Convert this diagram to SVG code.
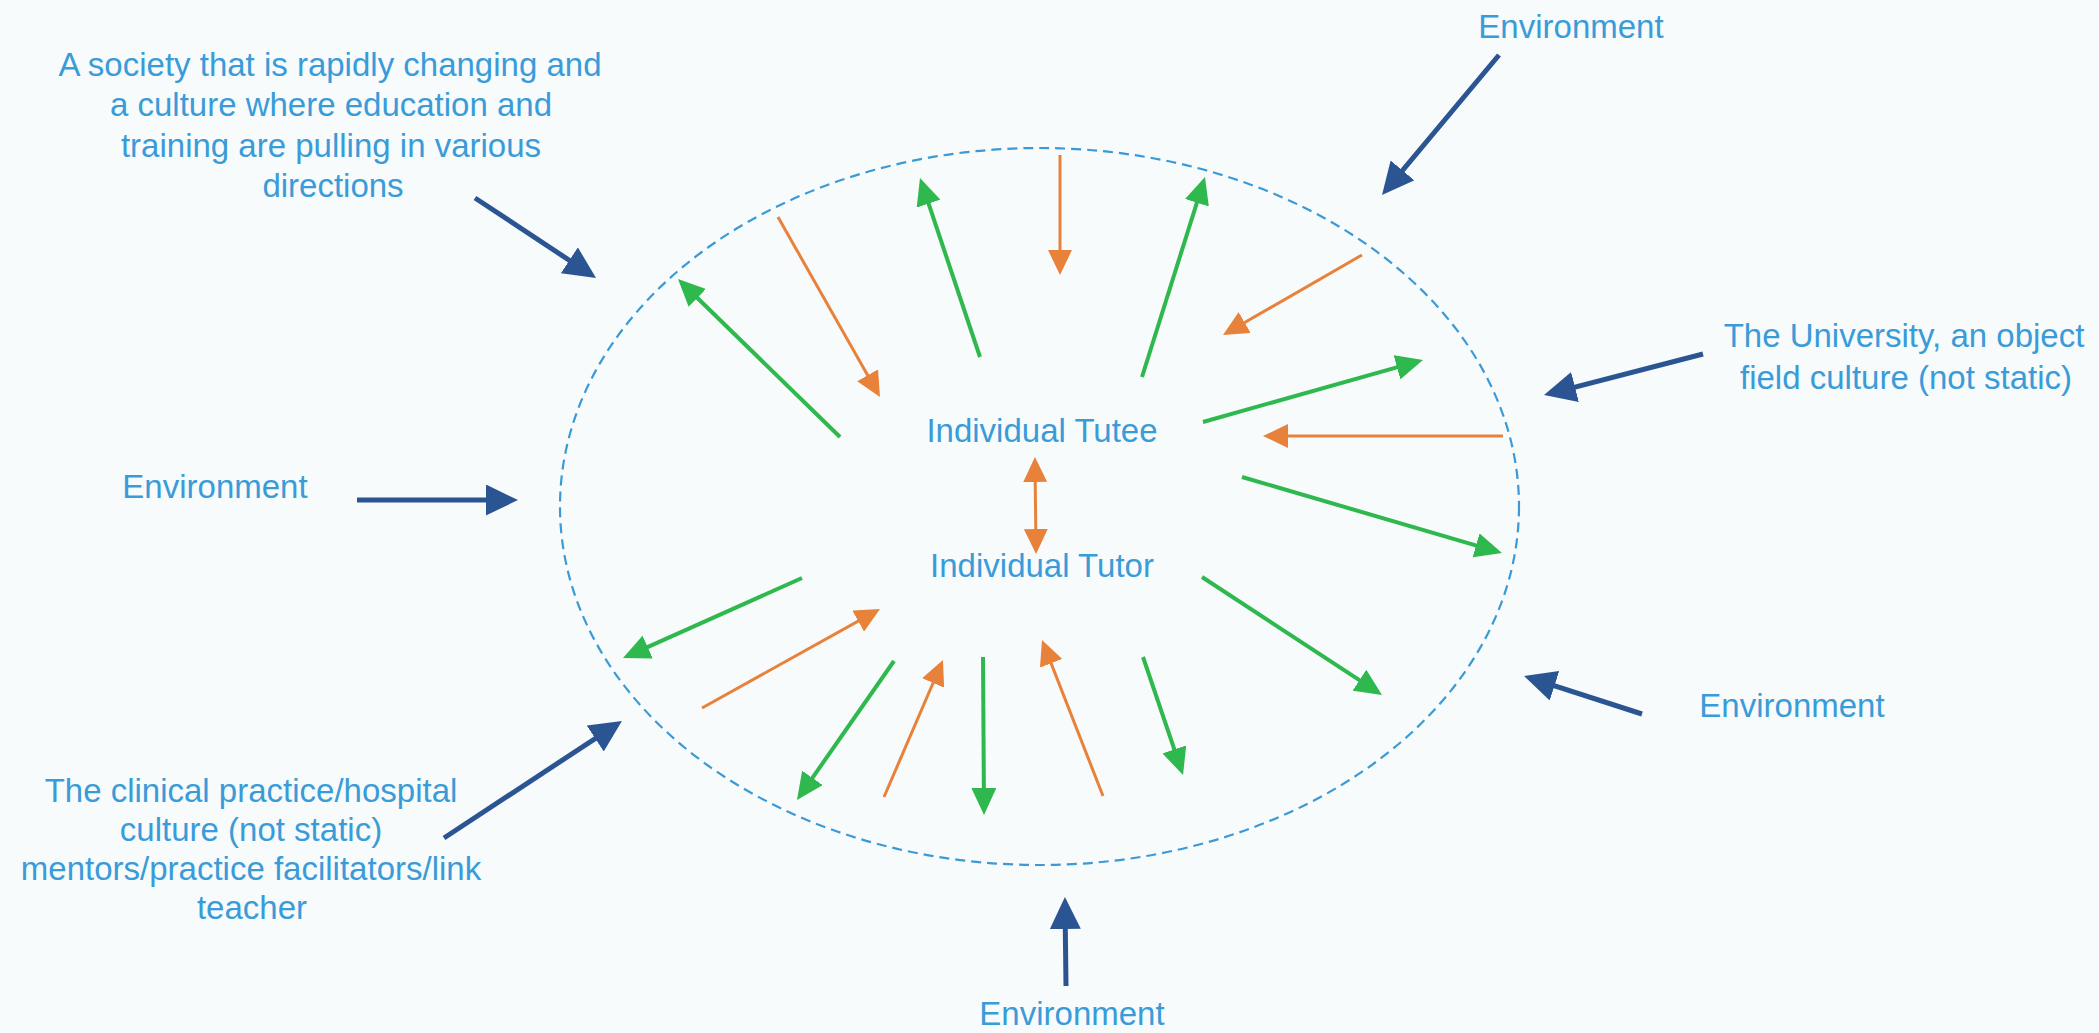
<svg xmlns="http://www.w3.org/2000/svg" width="2099" height="1033" viewBox="0 0 2099 1033">
<style>
text{font-family:"Liberation Sans",Arial,sans-serif;font-size:33px;fill:#3a9bd9;text-anchor:middle}
.g{stroke:#2eb84d;stroke-width:4;fill:none;marker-end:url(#mg)}
.o{stroke:#e8823a;stroke-width:3;fill:none;marker-end:url(#mo)}
.n{stroke:#2b5592;stroke-width:5;fill:none;marker-end:url(#mn)}
</style>
<defs>
<marker id="mg" markerUnits="userSpaceOnUse" viewBox="0 0 27 25" markerWidth="27" markerHeight="25" refX="21" refY="12.5" orient="auto"><path d="M0,0 L27,12.5 L0,25 z" fill="#2eb84d"/></marker>
<marker id="mo" markerUnits="userSpaceOnUse" viewBox="0 0 25 24" markerWidth="25" markerHeight="24" refX="19" refY="12" orient="auto"><path d="M0,0 L25,12 L0,24 z" fill="#e8823a"/></marker>
<marker id="mos" markerUnits="userSpaceOnUse" viewBox="0 0 25 24" markerWidth="25" markerHeight="24" refX="19" refY="12" orient="auto-start-reverse"><path d="M0,0 L25,12 L0,24 z" fill="#e8823a"/></marker>
<marker id="mn" markerUnits="userSpaceOnUse" viewBox="0 0 32 31" markerWidth="32" markerHeight="31" refX="25" refY="15.5" orient="auto"><path d="M0,0 L32,15.5 L0,31 z" fill="#2b5592"/></marker>
</defs>
<rect x="0" y="0" width="2099" height="1033" fill="#f7fbfb"/>
<g id="boundary">
<ellipse cx="1039.5" cy="506.5" rx="479.5" ry="358.5" fill="none" stroke="#3b9ad6" stroke-width="2.2" stroke-dasharray="10 6"/>
</g>
<g id="connectors">
<path class="g" d="M840,437 L682.3,283.2"/>
<path class="g" d="M980,357 L921.9,183.7"/>
<path class="g" d="M1142,377 L1203.2,182.7"/>
<path class="g" d="M1203,422 L1417.2,361.6"/>
<path class="g" d="M1242,477 L1496.2,551.3"/>
<path class="g" d="M1202,577 L1377,691.7"/>
<path class="g" d="M1143,657 L1181.1,769.3"/>
<path class="g" d="M802,578 L628.5,655.6"/>
<path class="g" d="M894,661 L800.4,795.1"/>
<path class="g" d="M983,657 L984,809"/>
<path class="o" d="M778,217 L877,391.8"/>
<path class="o" d="M1060,155 L1060,269"/>
<path class="o" d="M1362,255 L1228.2,332"/>
<path class="o" d="M1503,436 L1269,436"/>
<path class="o" d="M1103,796 L1044.2,645.6"/>
<path class="o" d="M702,708 L874.8,611.9"/>
<path class="o" d="M884,797 L940.6,665.5"/>
<path class="o" d="M1035,463 L1036,548" marker-start="url(#mos)"/>
<path class="n" d="M475,198 L590.2,274.1"/>
<path class="n" d="M1499,55 L1386.5,189.6"/>
<path class="n" d="M1703,354 L1550.8,393.3"/>
<path class="n" d="M357,500 L511,500"/>
<path class="n" d="M1642,714 L1530.7,678.1"/>
<path class="n" d="M1066,986 L1065,904"/>
<path class="n" d="M444,838 L616.1,724.8"/>
</g>
<g id="tutee"><text x="1042" y="442">Individual Tutee</text></g>
<g id="tutor"><text x="1042" y="577">Individual Tutor</text></g>
<g id="society">
<text x="330" y="76">A society that is rapidly changing and</text>
<text x="331" y="116">a culture where education and</text>
<text x="331" y="157">training are pulling in various</text>
<text x="333" y="197">directions</text>
</g>
<g id="env-top"><text x="1571" y="38">Environment</text></g>
<g id="university">
<text x="1904" y="347">The University, an object</text>
<text x="1906" y="389">field culture (not static)</text>
</g>
<g id="env-left"><text x="215" y="498">Environment</text></g>
<g id="env-right"><text x="1792" y="717">Environment</text></g>
<g id="clinical">
<text x="251" y="802">The clinical practice/hospital</text>
<text x="251" y="841">culture (not static)</text>
<text x="251" y="880">mentors/practice facilitators/link</text>
<text x="252" y="919">teacher</text>
</g>
<g id="env-bottom"><text x="1072" y="1025">Environment</text></g>
</svg>
